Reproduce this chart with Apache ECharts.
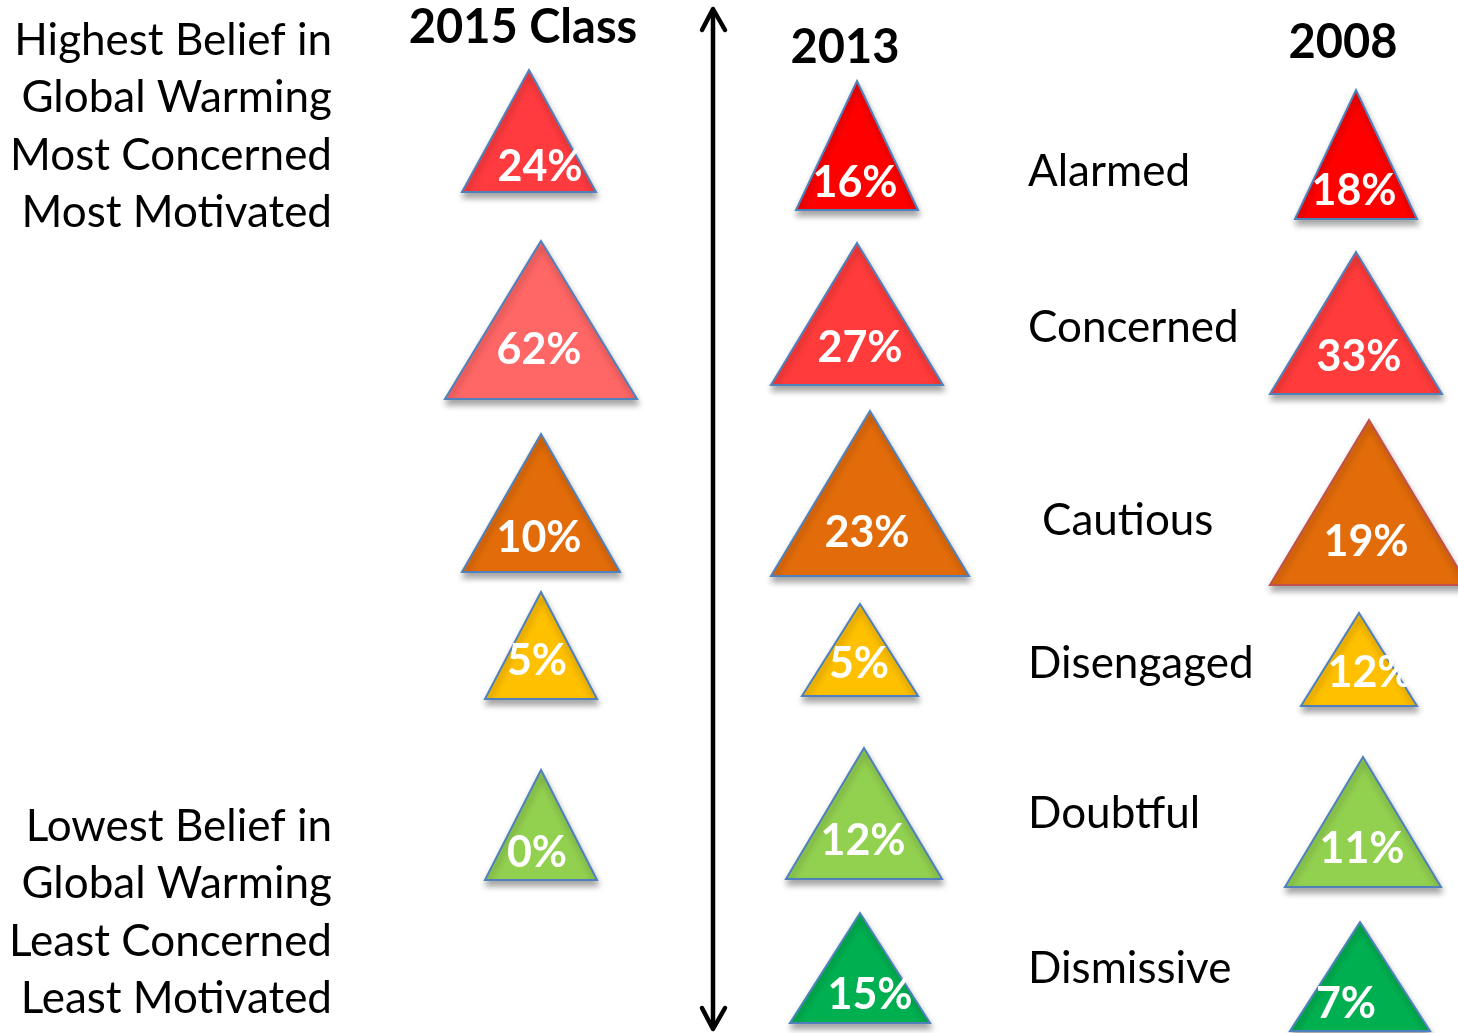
<!DOCTYPE html>
<html>
<head>
<meta charset="utf-8">
<script src="https://cdn.jsdelivr.net/npm/echarts@6/dist/echarts.min.js"></script>
<style>
html,body{margin:0;padding:0;background:#fff;}
#chart{width:1458px;height:1033px;}
</style>
</head>
<body>
<div id="chart"></div>
<script>
// ---------- DATA ----------
const columns = ['2015 Class', '2013', '2008'];
const categories = ['Alarmed', 'Concerned', 'Cautious', 'Disengaged', 'Doubtful', 'Dismissive'];
const values2015 = [24, 62, 10, 5, 0, null];
const values2013 = [16, 27, 23, 5, 12, 15];
const values2008 = [18, 33, 19, 12, 11, 7];
const topNoteLines = ['Highest Belief in', 'Global Warming', 'Most Concerned', 'Most Motivated'];
const bottomNoteLines = ['Lowest Belief in', 'Global Warming', 'Least Concerned', 'Least Motivated'];

// ---------- LAYOUT / STYLE (not data) ----------
// geometry per column, per row: [centerX, apexY, baseY, halfWidth, labelX, labelY]
const layout = {
  '2015 Class': [
    [529, 70, 192, 67, 540, 167],
    [541, 241, 399, 96, 539, 350],
    [541, 434, 572, 79, 539, 538],
    [541, 592, 699, 56, 537, 661],
    [541, 770, 880, 56, 537, 853],
    null
  ],
  '2013': [
    [857, 81, 210, 61, 855, 183],
    [857, 243, 385, 86, 860, 348],
    [870, 411, 576, 99, 867, 533],
    [860, 604, 696, 58, 859, 664],
    [864, 748, 879, 78, 863, 841],
    [860, 913, 1023, 70, 870, 995]
  ],
  '2008': [
    [1356, 90, 219, 61, 1354, 191],
    [1356, 252, 394, 86, 1359, 357],
    [1369, 420, 585, 99, 1366, 542],
    [1359, 613, 706, 58, 1370, 673],
    [1363, 757, 887, 78, 1362, 849],
    [1360, 922, 1031, 70, 1346, 1004]
  ]
};
const fills = {
  '2015 Class': ['#FF3B3F', '#FF6666', '#E36C0A', '#FFC000', '#92D050', '#00B050'],
  '2013': ['#FF0000', '#FF3B3B', '#E36C0A', '#FFC000', '#92D050', '#00B050'],
  '2008': ['#FF0000', '#FF3B3B', '#E36C0A', '#FFC000', '#92D050', '#00B050']
};
const headerPos = { '2015 Class': [523, 28], '2013': [845, 48], '2008': [1343, 43] };
const categoryPos = [[1028, 172], [1028, 328], [1042, 521], [1028, 664], [1028, 814], [1028, 969]];
const notesRightX = 332;
const topNotesY = [41, 98, 156, 213];
const bottomNotesY = [827, 884, 942, 999];

const FONT = 'Lato, "Open Sans", "DejaVu Sans", sans-serif';

// build data for custom series
const valuesByColumn = { '2015 Class': values2015, '2013': values2013, '2008': values2008 };
const seriesData = [];
columns.forEach((col, ci) => {
  valuesByColumn[col].forEach((v, ri) => {
    if (v !== null && v !== undefined) seriesData.push([ci, ri, v]);
  });
});

const chart = echarts.init(document.getElementById('chart'), null, { renderer: 'canvas' });

function renderTriangle(params, api) {
  const ci = api.value(0), ri = api.value(1), v = api.value(2);
  const col = columns[ci];
  const g = layout[col][ri];
  const apex = api.coord([g[0], g[1]]);
  const bl = api.coord([g[0] - g[3], g[2]]);
  const br = api.coord([g[0] + g[3], g[2]]);
  const lab = api.coord([g[4], g[5]]);
  const stroke = (col === '2008' && ri === 2) ? '#C0504D' : '#4F81BD';
  return {
    type: 'group',
    children: [
      {
        type: 'polygon',
        shape: { points: [apex, br, bl] },
        style: {
          fill: fills[col][ri],
          stroke: stroke,
          lineWidth: 2,
          shadowBlur: 6,
          shadowOffsetY: 5,
          shadowOffsetX: 1,
          shadowColor: 'rgba(0,0,0,0.35)'
        }
      },
      {
        type: 'text',
        x: lab[0], y: lab[1],
        style: {
          text: v + '%',
          fill: '#FFFFFF',
          fontFamily: FONT,
          fontWeight: 'bold',
          fontSize: 43,
          align: 'center',
          verticalAlign: 'middle'
        }
      }
    ]
  };
}

const graphics = [];
// column headers
columns.forEach(col => {
  graphics.push({
    type: 'text', x: headerPos[col][0], y: headerPos[col][1],
    style: { text: col, fill: '#000', fontFamily: FONT, fontWeight: 'bold', fontSize: 47, align: 'center', verticalAlign: 'middle' }
  });
});
// category labels
categories.forEach((c, i) => {
  graphics.push({
    type: 'text', x: categoryPos[i][0], y: categoryPos[i][1],
    style: { text: c, fill: '#000', fontFamily: FONT, fontSize: 44, align: 'left', verticalAlign: 'middle' }
  });
});
// side notes
topNoteLines.forEach((t, i) => {
  graphics.push({
    type: 'text', x: notesRightX, y: topNotesY[i],
    style: { text: t, fill: '#000', fontFamily: FONT, fontSize: 44, align: 'right', verticalAlign: 'middle' }
  });
});
bottomNoteLines.forEach((t, i) => {
  graphics.push({
    type: 'text', x: notesRightX, y: bottomNotesY[i],
    style: { text: t, fill: '#000', fontFamily: FONT, fontSize: 44, align: 'right', verticalAlign: 'middle' }
  });
});
// double-headed vertical arrow
graphics.push({
  type: 'group',
  children: [
    { type: 'line', shape: { x1: 713, y1: 10, x2: 713, y2: 1028 }, style: { stroke: '#000', lineWidth: 4.5 } },
    { type: 'polyline', shape: { points: [[702, 30], [713, 9], [725, 30]] }, style: { stroke: '#000', lineWidth: 4.5, fill: null, lineJoin: 'round', lineCap: 'round' } },
    { type: 'polyline', shape: { points: [[702, 1008], [713, 1029], [725, 1008]] }, style: { stroke: '#000', lineWidth: 4.5, fill: null, lineJoin: 'round', lineCap: 'round' } }
  ]
});

chart.setOption({
  animation: false,
  backgroundColor: '#FFFFFF',
  grid: { left: 0, right: 0, top: 0, bottom: 0 },
  xAxis: { type: 'value', min: 0, max: 1458, show: false },
  yAxis: { type: 'value', min: 0, max: 1033, inverse: true, show: false },
  series: [{
    type: 'custom',
    renderItem: renderTriangle,
    data: seriesData,
    clip: false
  }],
  graphic: graphics
});
</script>
</body>
</html>
